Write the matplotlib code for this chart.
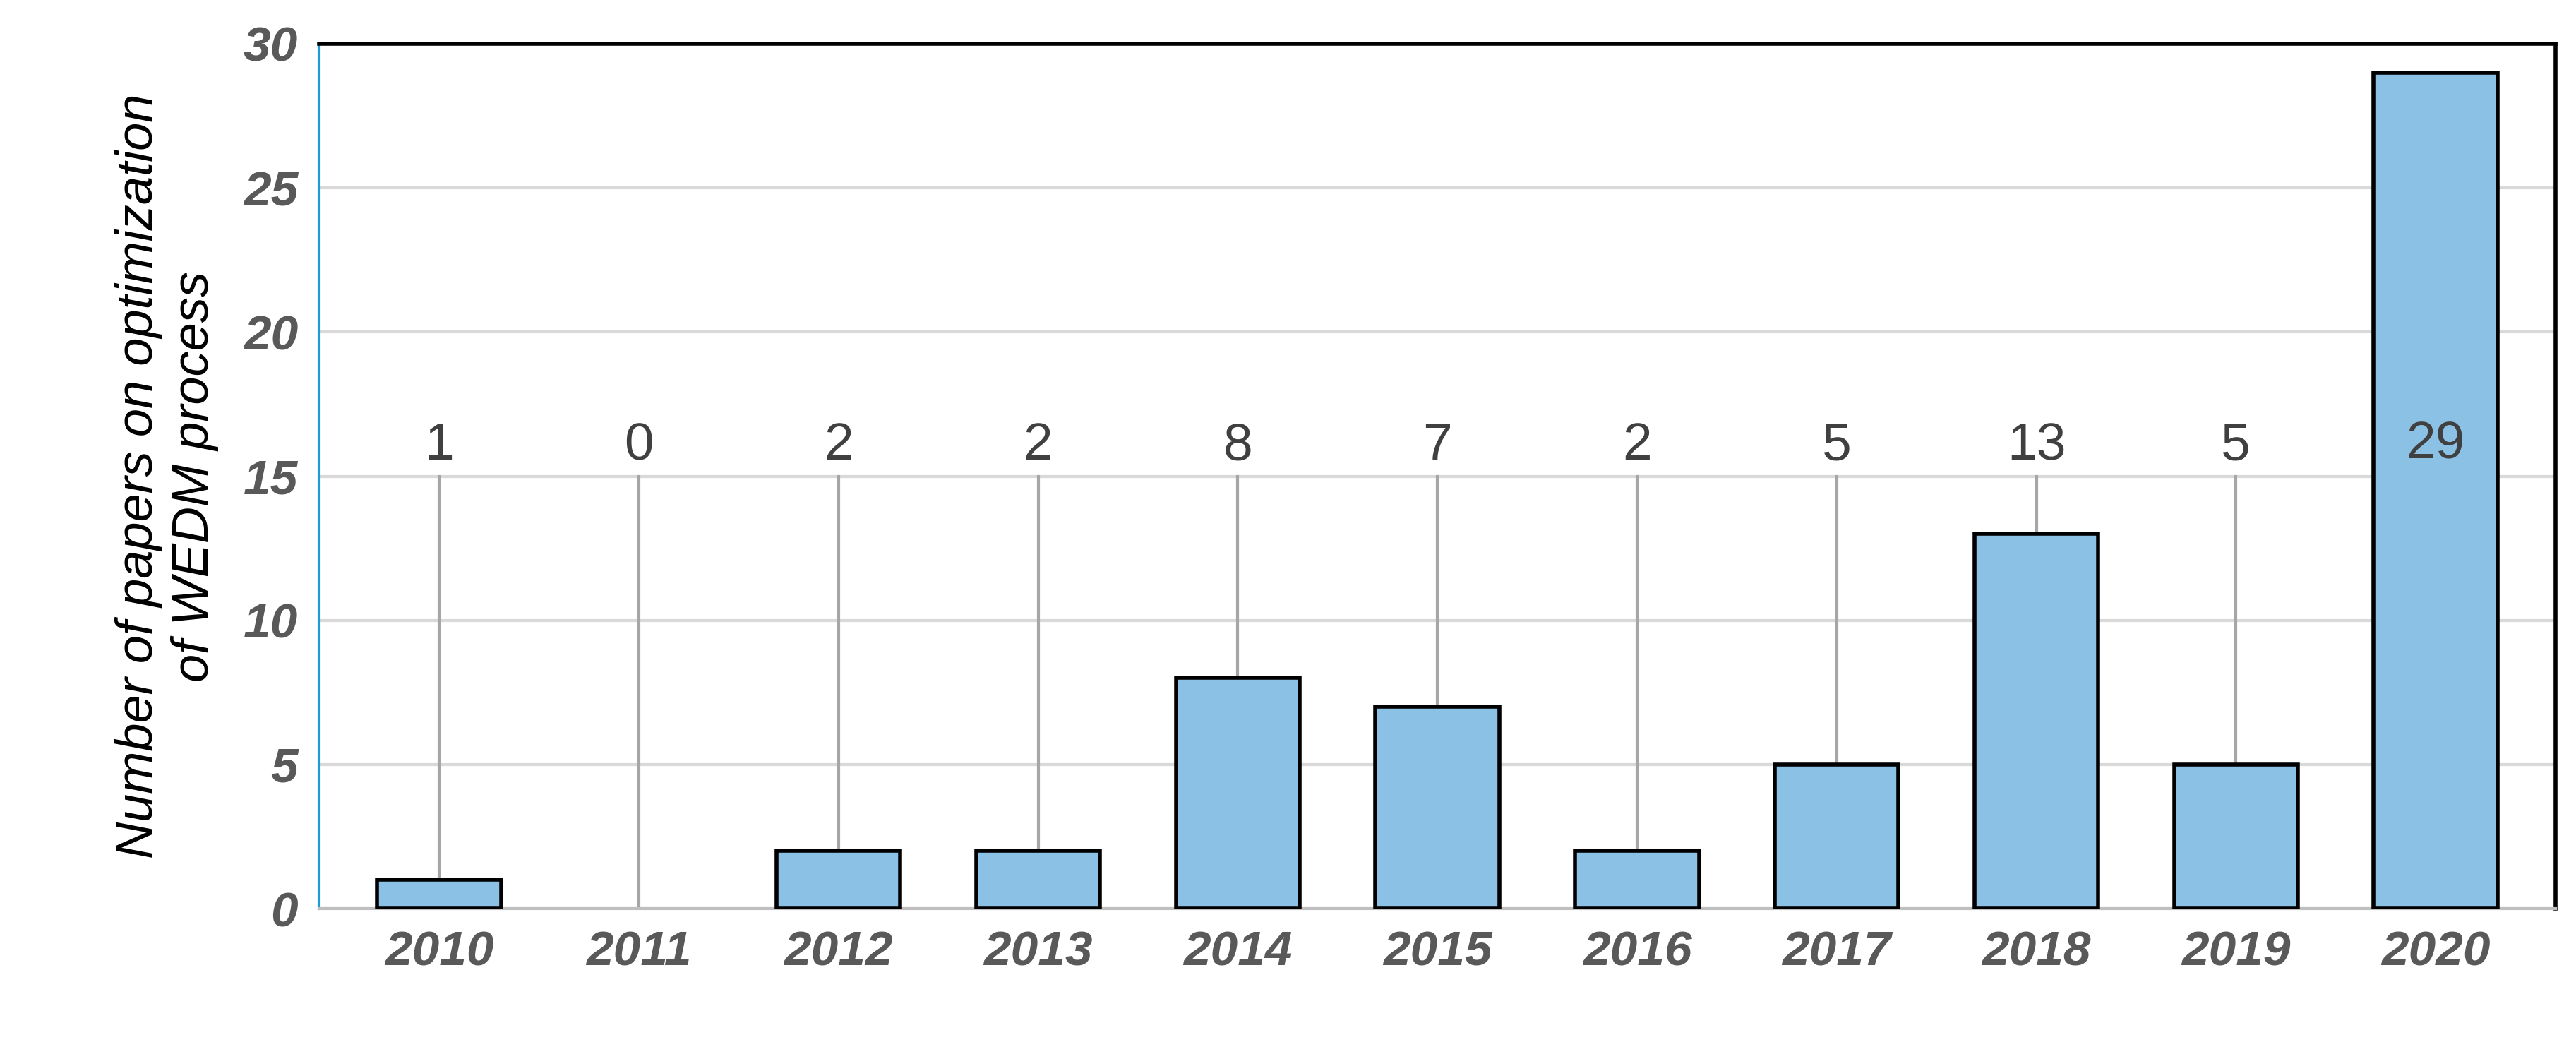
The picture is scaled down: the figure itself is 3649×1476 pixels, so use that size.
import matplotlib.pyplot as plt
plt.rcParams['font.family'] = ['Liberation Sans', 'DejaVu Sans']

years = ["2010","2011","2012","2013","2014","2015","2016","2017","2018","2019","2020"]
counts = [1,0,2,2,8,7,2,5,13,5,29]
yticks = [0,5,10,15,20,25,30]

fig = plt.figure(figsize=(36.49,14.76), dpi=100)
ax = fig.add_axes([0.124,0.128,0.868,0.83])
x = list(range(len(years)))
ec = ["black" if c > 0 else "none" for c in counts]
ax.bar(x, counts, width=0.62, color="#8cc1e6", edgecolor=ec, linewidth=4, zorder=3)
for xi, c in zip(x, counts):
    if c < 15:
        ax.plot([xi, xi], [c, 15], color="#a6a6a6", lw=3, zorder=2)
        ax.text(xi, 15.2, str(c), ha="center", va="bottom", fontsize=54, color="#404040")
    else:
        ax.text(xi, 16.1, str(c), ha="center", va="center", fontsize=54, color="#404040", zorder=4)
ax.set_xlim(-0.6, 10.6)
ax.set_ylim(0, 30)
ax.set_yticks(yticks)
ax.set_xticks(x)
ax.set_xticklabels(years)
for lab in ax.get_xticklabels() + ax.get_yticklabels():
    lab.set_fontsize(50); lab.set_fontweight("bold"); lab.set_fontstyle("italic"); lab.set_color("#595959")
ax.tick_params(length=0, pad=22)
ax.grid(axis="y", color="#d9d9d9", lw=3, zorder=0)
for s in ["top","right"]:
    ax.spines[s].set_linewidth(4); ax.spines[s].set_color("black")
ax.spines["left"].set_color("#1f9bd7"); ax.spines["left"].set_linewidth(3)
ax.spines["bottom"].set_color("#bfbfbf"); ax.spines["bottom"].set_linewidth(3)
ax.set_ylabel("Number of papers on optimization\nof WEDM process", fontsize=52, fontstyle="italic", color="black", labelpad=25)
fig.savefig("out.png", dpi=100)
